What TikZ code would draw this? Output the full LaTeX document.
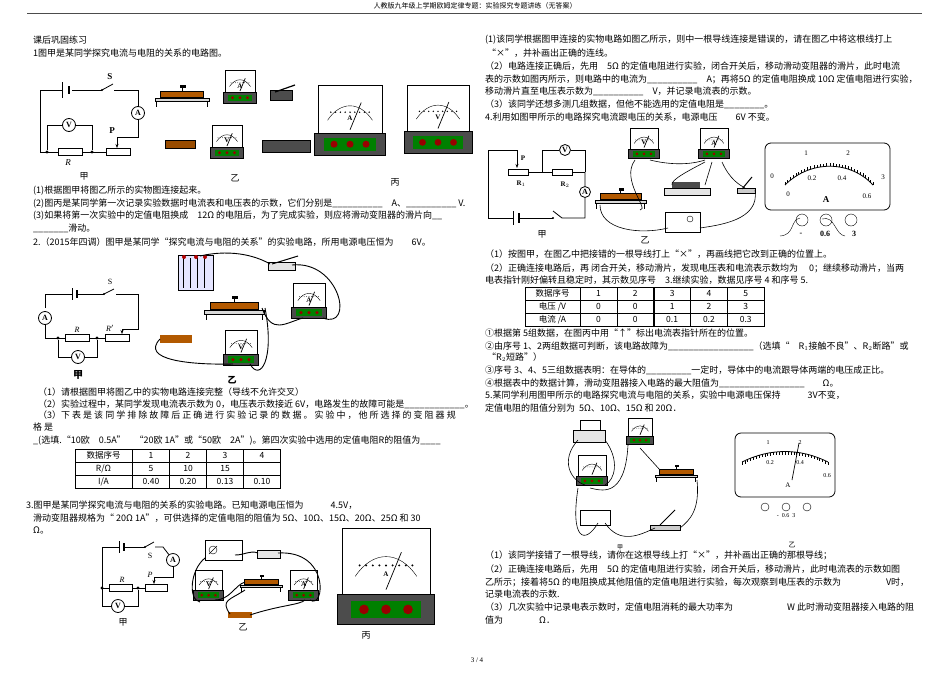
\documentclass[tikz,border=0pt]{standalone}
\usepackage{fontspec}
\setmainfont{Liberation Serif}
\newfontfamily\cjk{Noto Sans CJK SC}
\usetikzlibrary{arrows.meta}
\tikzset{
 t/.style={anchor=west,inner sep=0pt,font=\cjk\fontsize{9}{10}\selectfont},
 wire/.style={line width=0.8pt},
 pw/.style={line width=0.9pt,black},
 mc/.style={circle,draw,line width=0.8pt,fill=white,inner sep=0pt,minimum size=13pt,font=\fontsize{8}{8}\selectfont\bfseries},
 res/.style={draw,line width=0.8pt,fill=white,minimum width=24pt,minimum height=7pt,inner sep=0pt},
 dot/.style={circle,fill,inner sep=1.2pt},
 lab/.style={inner sep=0pt,font=\cjk\fontsize{9}{10}\selectfont},
 cell/.style={draw,minimum height=13pt,inner ysep=0pt,inner xsep=0pt,text height=6.5pt,text depth=1.5pt,font=\cjk\fontsize{8.5}{9}\selectfont}
}
\newcommand\meterpic[4]{\begin{scope}[shift={(#1,#2)},scale=#3]
 \draw[line width=0.8pt,fill=white] (0,0) rectangle (40,30);
 \draw (6,22) .. controls (14,10) and (26,10) .. (34,22);
 \foreach \k in {0,...,8}{\fill (8+3*\k,17) circle (0.5);}
 \node[inner sep=0,font=\bfseries\fontsize{7}{7}\selectfont] at (20,21) {#4};
 \draw[line width=0.7pt] (20,28) -- (27,11);
 \draw[line width=0.8pt,fill=black!70] (-2,30) rectangle (42,44);
 \fill[green!50!black] (4,33) rectangle (36,41);
 \foreach \xx in {10,20,30}{\fill[red!60!black] (\xx,37) circle (2.2);}
\end{scope}}
\newcommand\rheo[3]{\begin{scope}[shift={(#1,#2)},scale=#3]
 \draw[line width=0.8pt,fill=black!15] (0,0) rectangle (60,4);
 \fill[orange!70!black] (6,-8) rectangle (54,-1);
 \draw (6,-8) rectangle (54,-1);
 \draw[line width=1pt] (30,-12) -- (30,-8);
 \fill (28,-14) rectangle (34,-11);
 \draw[line width=1pt] (2,4) -- (2,10) (58,4) -- (58,10);
\end{scope}}
\newcommand\tabrow[6]{%
 \node[cell,minimum width=57pt] at (103.5,#1) {#2};
 \node[cell,minimum width=37pt] at (151,#1) {#3};
 \node[cell,minimum width=37pt] at (188,#1) {#4};
 \node[cell,minimum width=37pt] at (225,#1) {#5};
 \node[cell,minimum width=37pt] at (262,#1) {#6};}
\begin{document}
\begin{tikzpicture}[x=1pt,y=-1pt]
\useasboundingbox (0,0) rectangle (950,672);
\fill[white] (0,0) rectangle (950,672);
% header
\node[inner sep=0,font=\cjk\fontsize{7}{8}\selectfont] (hd) at (475,6) {人教版九年级上学期欧姆定律专题：实验探究专题讲练（无答案）};
\draw[black!70,line width=0.6pt] (27,13) -- (922,13);
% ---------- left column text
\node[t] (a1) at (33,40) {课后巩固练习};
\node[t] (a2) at (33,53) {1图甲是某同学探究电流与电阻的关系的电路图。};
\node[t] (a3) at (33,191) {(1)根据图甲将图乙所示的实物图连接起来。};
\node[t] (a4) at (33,204) {(2)图丙是某同学第一次记录实验数据时电流表和电压表的示数，它们分别是\_\_\_\_\_\_\_\_\_\_\quad A、\_\_\_\_\_\_\_\_\_\_ V.};
\node[t] (a5) at (33,216) {(3)如果将第一次实验中的定值电阻换成\quad 12Ω 的电阻后，为了完成实验，则应将滑动变阻器的滑片向\_\_};
\node[t] (a6) at (33,228) {\_\_\_\_\_\_\_滑动。};
\node[t] (a7) at (33,242) {2.（2015年四调）图甲是某同学“探究电流与电阻的关系”的实验电路，所用电源电压恒为\qquad 6V。};
\node[t] (a8) at (38,392) {（1）请根据图甲将图乙中的实物电路连接完整（导线不允许交叉）};
\node[t] (a9) at (38,404) {（2）实验过程中，某同学发现电流表示数为\ 0，电压表示数接近 6V，电路发生的故障可能是\_\_\_\_\_\_\_\_\_\_\_\_。};
\node[t] (a10) at (38,415) {（3）下 表 是 该 同 学 排 除 故 障 后 正 确 进 行 实 验 记 录 的 数 据 。 实 验 中 ， 他 所 选 择 的 变 阻 器 规};
\node[t] (a11) at (33,427) {格 是};
\node[t] (a12) at (33,441) {\_(选填.“10欧\quad 0.5A”\quad “20欧 1A”或“50欧\quad 2A”)。第四次实验中选用的定值电阻R的阻值为\_\_\_\_};
\node[t] (a13) at (26,505) {3.图甲是某同学探究电流与电阻的关系的实验电路。已知电源电压恒为\qquad\quad 4.5V，};
\node[t] (a14) at (33,518) {滑动变阻器规格为“\ 20Ω\ 1A”，可供选择的定值电阻的阻值为\ 5Ω、10Ω、15Ω、20Ω、25Ω 和 30};
\node[t] (a15) at (33,530) {Ω。};
% table 1
\tabrow{456}{数据序号}{1}{2}{3}{4}
\tabrow{469}{R/Ω}{5}{10}{15}{}
\tabrow{482}{I/A}{0.40}{0.20}{0.13}{0.10}
% ---------- circuit 1
\coordinate (c1a) at (40,90); \coordinate (c1b) at (138,90); \coordinate (c1c) at (40,152);
\draw[wire] (c1c) -- (c1a) -- (62,90) (72,90) -- (102,90);
\draw[wire] (62,82) -- (62,98); \draw[line width=2pt] (69,86) -- (69,94);
\draw[wire] (102,90) -- (113,84); \fill (102,90) circle (1.2);
\node[lab,font=\bfseries\fontsize{9}{9}\selectfont] (s1) at (110,77) {S};
\draw[wire] (114,90) -- (c1b);
\node[mc] (A1) at (138,113) {A};
\draw[wire] (c1b) -- (A1) -- (138,137) -- (117,137);
\draw[wire,-{Stealth[length=4pt]}] (117,137) -- (117,148);
\node[lab,font=\fontsize{9}{9}\selectfont\bfseries] (p1) at (112,131) {P};
\node[res] (R1) at (70,152) {}; \node[res] (Rh1) at (118,152) {};
\draw[wire] (c1c) -- (R1) -- (Rh1);
\node[dot] (d1) at (47,152) {}; \node[dot] (d2) at (92,152) {};
\node[mc] (V1) at (69,125) {V};
\draw[wire] (d1) |- (V1) -| (d2);
\node[lab,font=\itshape\fontsize{9}{9}\selectfont] (rl1) at (68,163) {R};
\node[lab] (j1) at (84,176) {甲};
% photos 1
\rheo{155}{98}{0.9}
\meterpic{225}{70}{0.75}{A}
\draw[fill=black!70] (270,90) rectangle (292,100); \draw[line width=1.2pt] (275,92) -- (295,85);
\draw[fill=orange!60!black] (165,140) rectangle (195,148);
\meterpic{212}{125}{0.75}{V}
\draw[fill=black!70] (262,140) rectangle (310,152);
\node[lab] (y1) at (235,178) {乙};
\meterpic{318}{85}{1.6}{A}
\meterpic{407}{85}{1.55}{V}
\node[lab] (b1) at (395,182) {丙};
% ---------- circuit 2
\draw[wire] (45,308) -- (45,294) -- (72,294) (78,294) -- (104,294);
\draw[wire] (72,288) -- (72,300); \draw[line width=2pt] (77,290) -- (77,298);
\draw[wire] (104,294) -- (114,289); \fill (104,294) circle (1.2);
\node[lab,font=\fontsize{8}{8}\selectfont] (s2) at (110,282) {S};
\draw[wire] (116,294) -- (138,294) -- (138,329) -- (122,329);
\draw[wire,-{Stealth[length=4pt]}] (122,329) -- (122,334);
\node[mc] (A2) at (45,318) {A};
\node[res] (R2) at (77,338) {}; \node[res] (Rh2) at (117,338) {};
\draw[wire] (A2) -- (45,338) -- (R2) -- (Rh2);
\node[dot] (d3) at (58,338) {}; \node[dot] (d4) at (97,338) {};
\node[mc] (V2) at (78,357) {V};
\draw[wire] (d3) |- (V2) -| (d4);
\node[lab,font=\itshape\fontsize{8}{8}\selectfont] (rl2) at (77,330) {R};
\node[lab,font=\itshape\fontsize{8}{8}\selectfont] (rl3) at (110,328) {R$'$};
\node[lab,font=\cjk\bfseries\fontsize{10}{10}\selectfont] (j2) at (78,375) {甲};
% photo 2
\draw[fill=blue!10] (178,255) rectangle (213,290);
\foreach \xx in {183,190,197,204}{\draw (\xx,258) -- (\xx,288);}
\fill[red!70!black] (184,257) circle (2) (196,257) circle (2) (205,257) circle (2);
\draw[fill=black!10] (268,262) rectangle (295,270); \draw[line width=1pt] (272,264) -- (298,256);
\rheo{204}{310}{1.0}
\meterpic{293}{283}{0.8}{A}
\meterpic{225}{330}{0.8}{V}
\fill[orange!70!black] (160,335) rectangle (192,343);
\draw[pw] (200,256) .. controls (235,248) and (260,258) .. (270,264);
\draw[pw] (292,265) .. controls (340,260) and (355,330) .. (323,318);
\draw[pw] (262,308) .. controls (272,335) and (285,323) .. (303,318);
\draw[pw] (160,339) .. controls (140,360) and (190,365) .. (233,364);
\draw[pw] (265,308) .. controls (275,360) and (260,382) .. (250,364);
\node[lab,font=\cjk\bfseries\fontsize{9}{9}\selectfont] (y2) at (232,380) {乙};
% ---------- circuit 3
\draw[wire] (102,606) -- (102,547) -- (119,547) (125,547) -- (145,547);
\draw[wire] (119,541) -- (119,553); \draw[line width=2pt] (124,543) -- (124,551);
\draw[wire] (145,547) -- (154,542); \fill (145,547) circle (1.2);
\node[lab,font=\fontsize{8}{8}\selectfont] (s3) at (150,556) {S};
\node[mc] (A3) at (173,560) {A};
\draw[wire] (155,547) -- (163,547) -- (A3);
\draw[wire] (A3) -- (173,577) -- (154,577);
\draw[wire,-{Stealth[length=4pt]}] (154,577) -- (154,584);
\node[lab,font=\itshape\fontsize{8}{8}\selectfont] (p3) at (150,575) {P};
\node[res,minimum width=23pt] (R3) at (121,588) {}; \node[res,minimum width=22pt] (Rh3) at (156,588) {};
\draw[wire] (102,588) -- (R3) -- (Rh3);
\node[dot] (d5) at (102,588) {}; \node[dot] (d6) at (138,588) {};
\node[mc] (V3) at (118,606) {V};
\draw[wire] (102,606) -- (V3) -| (d6);
\node[lab,font=\itshape\fontsize{8}{8}\selectfont] (rl4) at (122,580) {R};
\node[lab] (j3) at (123,622) {甲};
% photo 3
\draw[line width=0.8pt,fill=white] (205,540) rectangle (242,560);
\draw (213,550) circle (4); \draw (209,554) -- (217,546);
\draw[fill=black!10] (257,550) rectangle (280,558);
\meterpic{195}{570}{0.68}{V}
\rheo{240}{585}{0.7}
\meterpic{290}{570}{0.68}{A}
\fill[orange!70!black] (228,612) rectangle (252,618);
\draw[pw] (235,555) .. controls (245,555) and (250,550) .. (258,553);
\draw[pw] (278,553) .. controls (330,550) and (325,610) .. (310,600);
\draw[pw] (205,558) .. controls (190,570) and (188,600) .. (200,602);
\draw[pw] (245,590) .. controls (230,600) and (220,600) .. (230,614);
\draw[pw] (250,615) .. controls (280,605) and (300,605) .. (305,600);
\draw[pw] (215,600) .. controls (230,600) and (235,585) .. (245,582);
\node[lab] (y3) at (243,627) {乙};
\meterpic{342}{528}{2.2}{A}
\node[lab] (b3) at (366,635) {丙};
% ---------- right column text
\node[t] (b1t) at (485,40) {(1)该同学根据图甲连接的实物电路如图乙所示，则中一根导线连接是错误的，请在图乙中将这根线打上};
\node[t] (b2t) at (487,53) {“×”，并补画出正确的连线。};
\node[t] (b3t) at (485,66) {（2）电路连接正确后，先用\quad 5Ω 的定值电阻进行实验，闭合开关后，移动滑动变阻器的滑片，此时电流};
\node[t] (b4t) at (485,79) {表的示数如图丙所示，则电路中的电流为\_\_\_\_\_\_\_\_\_\_\quad A；再将5Ω 的定值电阻换成\ 10Ω 定值电阻进行实验，};
\node[t] (b5t) at (485,91) {移动滑片直至电压表示数为\_\_\_\_\_\_\_\_\_\_\quad V，并记录电流表的示数。};
\node[t] (b6t) at (485,104) {（3）该同学还想多测几组数据，但他不能选用的定值电阻是\_\_\_\_\_\_\_\_。};
\node[t] (b7t) at (485,117) {4.利用如图甲所示的电路探究电流跟电压的关系，电源电压\quad\quad 6V 不变。};
\node[t] (b8t) at (485,254) {（1）按图甲，在图乙中把接错的一根导线打上“×”，再画线把它改到正确的位置上。};
\node[t] (b9t) at (485,268) {（2）正确连接电路后，再 闭合开关，移动滑片，发现电压表和电流表示数均为\quad\ 0；继续移动滑片，当两};
\node[t] (b10t) at (485,280) {电表指针刚好偏转且稳定时，其示数见序号\quad 3.继续实验，数据见序号\ 4 和序号 5.};
\node[t] (b11t) at (485,333) {①根据第 5组数据，在图丙中用“↑”标出电流表指针所在的位置。};
\node[t] (b12t) at (485,346) {②由序号 1、2两组数据可判断，该电路故障为\_\_\_\_\_\_\_\_\_\_\_\_\_\_\_\_\_（选填“\quad R$_1$接触不良”、R$_2$断路”或};
\node[t] (b13t) at (487,357) {“R$_2$短路”）};
\node[t] (b14t) at (485,370) {③序号 3、4、5三组数据表明：在导体的\_\_\_\_\_\_\_\_\_一定时，导体中的电流跟导体两端的电压成正比。};
\node[t] (b15t) at (485,383) {④根据表中的数据计算，滑动变阻器接入电路的最大阻值为\_\_\_\_\_\_\_\_\_\_\_\_\_\_\_\_\_\quad\quad Ω。};
\node[t] (b16t) at (485,395) {5.某同学利用图甲所示的电路探究电流与电阻的关系，实验中电源电压保持\qquad\quad 3V不变，};
\node[t] (b17t) at (485,408) {定值电阻的阻值分别为\ \ 5Ω、10Ω、15Ω 和 20Ω．};
\node[t] (b18t) at (485,555) {（1）该同学接错了一根导线，请你在这根导线上打“×”，并补画出正确的那根导线；};
\node[t] (b19t) at (485,569) {（2）正确连接电路后，先用\quad 5Ω 的定值电阻进行实验，闭合开关后，移动滑片，此时电流表的示数如图};
\node[t] (b20t) at (485,582) {乙所示；接着将5Ω 的电阻换成其他阻值的定值电阻进行实验，每次观察到电压表的示数为\qquad\qquad\quad V时，};
\node[t] (b21t) at (485,594) {记录电流表的示数.};
\node[t] (b22t) at (485,607) {（3）几次实验中记录电表示数时，定值电阻消耗的最大功率为\qquad\qquad\qquad W\ 此时滑动变阻器接入电路的阻};
\node[t] (b23t) at (485,620) {值为\qquad\qquad Ω．};
\node[inner sep=0,font=\fontsize{7}{7}\selectfont] (pg) at (477,660) {3 / 4};
% table 2
\node[cell,minimum width=55pt] (t2a) at (552.5,294) {数据序号};
\node[cell,minimum width=55pt] (t2b) at (552.5,307) {电压 /V};
\node[cell,minimum width=55pt] (t2c) at (552.5,320) {电流 /A};
\foreach \v/\w/\u [count=\k from 0] in {1/0/0,2/0/0,3/1/0.1,4/2/0.2,5/3/0.3}{
 \node[cell,minimum width=37pt] at (598.5+36.8*\k,294) {\v};
 \node[cell,minimum width=37pt] at (598.5+36.8*\k,307) {\w};
 \node[cell,minimum width=37pt] at (598.5+36.8*\k,320) {\u};
}
% ---------- circuit 4
\draw[wire] (488,218) -- (488,150) -- (517,150);
\draw[wire,-{Stealth[length=4pt]}] (517,150) -- (517,168);
\node[lab,font=\fontsize{7}{7}\selectfont\bfseries] (p4) at (523,158) {P};
\node[res,minimum width=20pt,minimum height=6pt] (R41) at (518,172) {};
\node[res,minimum width=20pt,minimum height=6pt] (R42) at (562,172) {};
\draw[wire] (R41) -- (R42) -- (585,172);
\node[mc,minimum size=11pt] (V4) at (565,150) {V};
\draw[wire] (542,172) |- (V4) -| (585,172);
\node[mc,minimum size=11pt] (A4) at (585,192) {A};
\draw[wire] (585,172) -- (A4) -- (585,218) -- (562,218) -- (553,211);
\fill (553,218) circle (1.2);
\draw[wire] (553,218) -- (519,218) (513,218) -- (488,218);
\draw[wire] (513,211) -- (513,225); \draw[line width=2pt] (519,213) -- (519,223);
\node[lab,font=\bfseries\fontsize{7}{7}\selectfont] (r41l) at (521,184) {R$_1$};
\node[lab,font=\bfseries\fontsize{7}{7}\selectfont] (r42l) at (565,185) {R$_2$};
\node[lab] (j4) at (542,234) {甲};
% photo 4
\meterpic{630}{128}{0.7}{V}
\meterpic{700}{128}{0.7}{A}
\rheo{595}{200}{0.85}
\draw[fill=black!10] (664,188) rectangle (710,195); \fill[black!70] (672,182) rectangle (700,188);
\draw[fill=black!20] (737,188) rectangle (755,193); \draw[line width=1pt] (742,189) -- (752,177);
\draw[fill=white] (665,212) rectangle (700,232); \draw (690,219) circle (3);
\draw[pw,line width=0.6pt] (635,160) .. controls (620,180) and (650,210) .. (640,210);
\draw[pw,line width=0.6pt] (650,160) .. controls (670,165) and (690,165) .. (705,160);
\draw[pw,line width=0.6pt] (705,162) .. controls (690,170) and (670,180) .. (672,185);
\draw[pw,line width=0.6pt] (712,162) -- (705,185);
\draw[pw,line width=0.6pt] (722,162) .. controls (730,180) and (740,185) .. (745,188);
\draw[pw,line width=0.6pt] (755,190) .. controls (760,220) and (720,225) .. (700,228);
\draw[pw,line width=0.6pt] (600,205) .. controls (600,230) and (640,235) .. (668,228);
\node[lab] (y4) at (645,240) {乙};
% big meter 4
\draw[line width=0.8pt,rounded corners=6pt] (765,143) rectangle (890,210);
\draw[line width=0.8pt] (785,185) .. controls (810,160) and (850,160) .. (873,185);
\foreach \k in {0,...,30}{\pgfmathsetmacro\tt{\k/30}
 \path (785,185) .. controls (810,160) and (850,160) .. (873,185) coordinate[pos=\tt] (q\k);
 \draw (q\k) -- ++(0,-3);}
\node[lab,font=\fontsize{7}{7}\selectfont] (m0) at (772,176) {0};
\node[lab,font=\fontsize{7}{7}\selectfont] (m1) at (806,153) {1};
\node[lab,font=\fontsize{7}{7}\selectfont] (m2) at (848,153) {2};
\node[lab,font=\fontsize{7}{7}\selectfont] (m3) at (883,177) {3};
\node[lab,font=\fontsize{7}{7}\selectfont] (m4) at (812,178) {0.2};
\node[lab,font=\fontsize{7}{7}\selectfont] (m5) at (842,178) {0.4};
\node[lab,font=\fontsize{7}{7}\selectfont] (m6) at (788,194) {0};
\node[lab,font=\fontsize{7}{7}\selectfont] (m7) at (867,196) {0.6};
\node[lab,font=\bfseries\fontsize{9}{9}\selectfont] (m8) at (826,200) {A};
\draw (802,220) circle (6) (826,220) circle (6) (851,220) circle (6);
\draw (780,236) .. controls (795,235) and (790,220) .. (800,218);
\draw (822,219) .. controls (835,215) and (835,235) .. (845,236);
\node[lab,font=\bfseries\fontsize{8}{8}\selectfont] (m9) at (801,234) {-};
\node[lab,font=\bfseries\fontsize{8}{8}\selectfont] (m10) at (825,234) {0.6};
\node[lab,font=\bfseries\fontsize{8}{8}\selectfont] (m11) at (854,234) {3};
% ---------- photo 5
\draw[fill=black!10] (573,430) rectangle (605,442); \draw (580,420) rectangle (600,430);
\meterpic{628}{418}{0.6}{}
\meterpic{578}{455}{0.7}{}
\rheo{655}{475}{0.7}
\draw[fill=white] (580,510) rectangle (610,525);
\draw[fill=black!20] (650,525) rectangle (680,530); \draw[line width=1pt] (660,525) -- (675,510);
\draw[pw,line width=0.6pt] (578,440) .. controls (560,460) and (570,480) .. (585,485);
\draw[pw,line width=0.6pt] (605,440) .. controls (620,460) and (615,480) .. (605,485);
\draw[pw,line width=0.6pt] (628,445) .. controls (625,500) and (600,490) .. (590,488);
\draw[pw,line width=0.6pt] (640,448) -- (660,470);
\draw[pw,line width=0.6pt] (578,488) .. controls (570,540) and (585,545) .. (598,523);
\draw[pw,line width=0.6pt] (605,523) .. controls (620,545) and (640,535) .. (655,528);
\draw[pw,line width=0.6pt] (697,480) .. controls (700,510) and (690,520) .. (680,528);
\node[lab,font=\cjk\fontsize{6}{6}\selectfont] (j5) at (620,547) {甲};
% meter 5
\draw[line width=0.8pt,rounded corners=6pt] (735,433) rectangle (835,497);
\draw[line width=0.8pt] (742,462) .. controls (770,448) and (800,448) .. (828,462);
\foreach \k in {0,...,30}{\pgfmathsetmacro\tt{\k/30}
 \path (742,462) .. controls (770,448) and (800,448) .. (828,462) coordinate[pos=\tt] (r\k);
 \draw (r\k) -- ++(0,3);}
\node[lab,font=\fontsize{6}{6}\selectfont] (n1) at (768,443) {1};
\node[lab,font=\fontsize{6}{6}\selectfont] (n2) at (800,443) {2};
\node[lab,font=\fontsize{6}{6}\selectfont] (n3) at (770,463) {0.2};
\node[lab,font=\fontsize{6}{6}\selectfont] (n4) at (800,463) {0.4};
\node[lab,font=\fontsize{6}{6}\selectfont] (n5) at (827,476) {0.6};
\node[lab,font=\fontsize{7}{7}\selectfont] (n6) at (788,485) {A};
\draw[line width=0.7pt] (792,480) -- (799,443);
\draw (765,507) circle (4) (786,507) circle (4) (807,507) circle (4);
\node[lab,font=\fontsize{6}{6}\selectfont] (n7) at (786,516) {-\ \ 0.6\ \ 3};
\node[lab,font=\cjk\fontsize{7}{7}\selectfont] (y5) at (792,545) {乙};
\end{tikzpicture}
\end{document}
